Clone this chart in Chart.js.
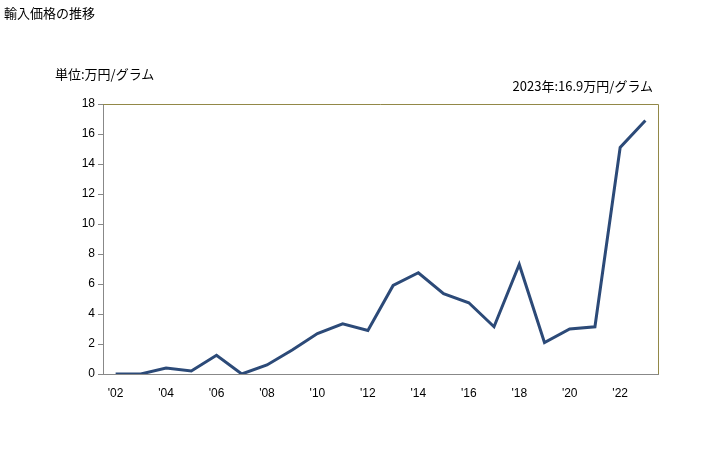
<!DOCTYPE html>
<html>
<head>
<meta charset="utf-8">
<script src="https://cdn.jsdelivr.net/npm/chart.js@4"></script>
<style>
  body { margin: 0; background: #fff; font-family: "Noto Sans CJK JP", sans-serif; }
  #wrap { position: relative; width: 728px; height: 450px; }
  .lbl { position: absolute; font-size: 13px; color: #000; white-space: nowrap; }
</style>
</head>
<body>
<div id="wrap">
  <canvas id="grafico" width="728" height="450"></canvas>
  <div class="lbl" style="left:4px; top:3px;">輸入価格の推移</div>
  <div class="lbl" style="left:55px; top:64px;">単位:万円/グラム</div>
  <div class="lbl" style="right:75px; top:76px;">2023年:16.9万円/グラム</div>
</div>
<script>
const years = ['2002','2003','2004','2005','2006','2007','2008','2009','2010','2011','2012',
               '2013','2014','2015','2016','2017','2018','2019','2020','2021','2022','2023'];
const prices = [0.0, 0.0, 0.4, 0.2, 1.25, 0.0, 0.6, 1.6, 2.7, 3.35, 2.9,
                5.9, 6.75, 5.35, 4.75, 3.15, 7.3, 2.1, 3.0, 3.15, 15.1, 16.9];
const yTicks = [0, 2, 4, 6, 8, 10, 12, 14, 16, 18];

const frame = {
  id: 'frame',
  afterDraw(chart) {
    const a = chart.chartArea;
    const c = chart.ctx;
    c.save();
    c.strokeStyle = '#928848';
    c.lineWidth = 1;
    c.beginPath();
    c.moveTo(a.left, a.top + 0.5);
    c.lineTo(a.right + 0.5, a.top + 0.5);
    c.lineTo(a.right + 0.5, a.bottom);
    c.stroke();
    c.restore();
  }
};

new Chart(document.getElementById('grafico').getContext('2d'), {
  type: 'line',
  data: {
    labels: years,
    datasets: [{
      data: prices,
      borderColor: '#2C4A78',
      borderWidth: 3,
      pointRadius: 0,
      tension: 0,
      fill: false
    }]
  },
  options: {
    responsive: false,
    animation: false,
    layout: { padding: { left: 0, top: 104, right: 70, bottom: 50 } },
    plugins: { legend: { display: false }, tooltip: { enabled: false } },
    scales: {
      x: {
        offset: true,
        afterFit(s) { s.height = 26; },
        grid: { display: false },
        border: { color: '#888', width: 1 },
        ticks: {
          autoSkip: false,
          maxRotation: 0,
          padding: 4,
          color: '#000',
          font: { family: 'Liberation Sans, Arial', size: 12 },
          callback(v, i) {
            const y = years[i];
            return (+y) % 2 === 0 ? "'" + y.slice(2) : '';
          }
        }
      },
      y: {
        min: 0,
        max: 18,
        afterFit(s) { s.width = 103; },
        afterBuildTicks(s) { s.ticks = yTicks.map(v => ({ value: v })); },
        grid: { drawOnChartArea: false, drawTicks: true, tickLength: 5, color: '#888' },
        border: { color: '#888', width: 1 },
        ticks: {
          padding: 3,
          color: '#000',
          font: { family: 'Liberation Sans, Arial', size: 12 }
        }
      }
    }
  },
  plugins: [frame]
});
</script>
</body>
</html>
